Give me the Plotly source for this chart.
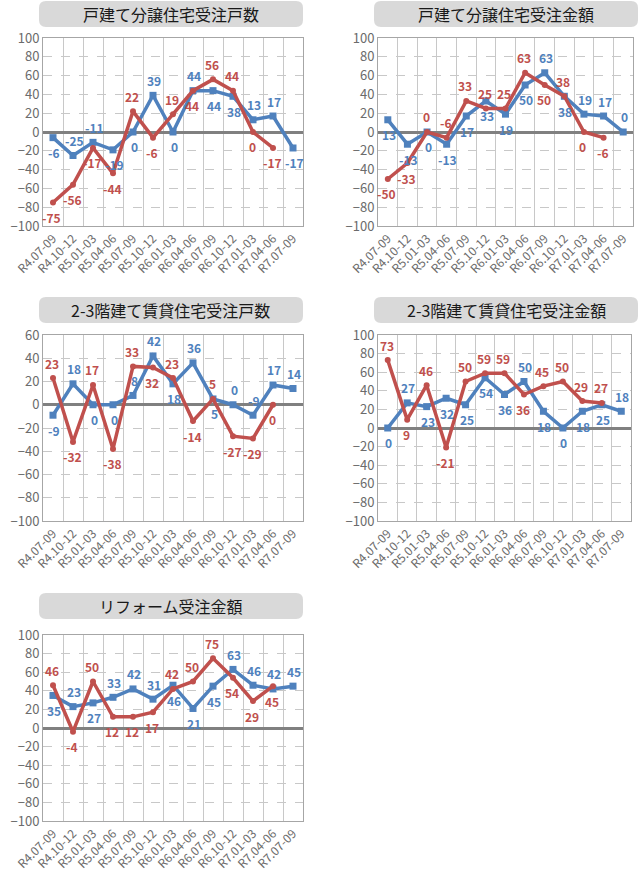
import plotly.graph_objects as go

W, H = 642, 875

categories = ["R4.07-09", "R4.10-12", "R5.01-03", "R5.04-06", "R5.07-09", "R5.10-12",
              "R6.01-03", "R6.04-06", "R6.07-09", "R6.10-12", "R7.01-03", "R7.04-06", "R7.07-09"]

titles = ["戸建て分譲住宅受注戸数", "戸建て分譲住宅受注金額",
          "2-3階建て賃貸住宅受注戸数", "2-3階建て賃貸住宅受注金額",
          "リフォーム受注金額"]

# blue = 実績, red = 見通し (one fewer quarter)
detached_units_blue = [-6, -25, -11, -19, 0, 39, 0, 44, 44, 38, 13, 17, -17]
detached_units_red = [-75, -56, -17, -44, 22, -6, 19, 44, 56, 44, 0, -17]
detached_amount_blue = [13, -13, 0, -13, 17, 33, 19, 50, 63, 38, 19, 17, 0]
detached_amount_red = [-50, -33, 0, -6, 33, 25, 25, 63, 50, 38, 0, -6]
rental_units_blue = [-9, 18, 0, 0, 8, 42, 18, 36, 5, 0, -9, 17, 14]
rental_units_red = [23, -32, 17, -38, 33, 32, 23, -14, 5, -27, -29, 0]
rental_amount_blue = [0, 27, 23, 32, 25, 54, 36, 50, 18, 0, 18, 25, 18]
rental_amount_red = [73, 9, 46, -21, 50, 59, 59, 36, 45, 50, 29, 27]
reform_amount_blue = [35, 23, 27, 33, 42, 31, 46, 21, 45, 63, 46, 42, 45]
reform_amount_red = [46, -4, 50, 12, 12, 17, 42, 50, 75, 54, 29, 45]

# label side per point: t = above, b = below
side_blue = [
    "bttbbtbtbbttb",
    "bbbbbbbbtbttt",
    "btbbttbtbtttt",
    "btbbbbbtbbbbt",
    "btbtttbbbtttt",
]
side_red = [
    "bbbbtbtbttbb",
    "bbttttttbtbb",
    "tbtbtbtbtbbb",
    "tbtbtttbtttt",
    "tbtbbbtttbbb",
]

series = [
    (detached_units_blue, detached_units_red),
    (detached_amount_blue, detached_amount_red),
    (rental_units_blue, rental_units_red),
    (rental_amount_blue, rental_amount_red),
    (reform_amount_blue, reform_amount_red),
]

# pixel boxes: plot area (x0, x1, y0, y1), title box (x0, x1, y0, y1)
plot_px = [(43, 303, 38, 226), (378, 633, 38, 226),
           (43, 303, 335, 521), (378, 631, 335, 521),
           (43, 303, 635, 821)]
title_px = [(39, 303, 1, 27), (374, 638, 1, 27),
            (39, 303, 297, 323), (374, 638, 297, 323),
            (39, 303, 593, 619)]
y_ranges = [(-100, 100), (-100, 100), (-100, 60), (-100, 100), (-100, 100)]

BLUE = "#4F81BD"
RED = "#C0504D"
FONT = "Noto Sans CJK JP"
LABEL_GAP = 15


def fx(px):
    return px / W


def fy(py):
    return 1 - py / H


def rounded_rect(x0, x1, y0, y1, r=7):
    X0, X1, Y0, Y1 = fx(x0), fx(x1), fy(y0), fy(y1)
    rx, ry = r / W, r / H
    return (f"M {X0+rx},{Y0} L {X1-rx},{Y0} Q {X1},{Y0} {X1},{Y0-ry} "
            f"L {X1},{Y1+ry} Q {X1},{Y1} {X1-rx},{Y1} L {X0+rx},{Y1} "
            f"Q {X0},{Y1} {X0},{Y1+ry} L {X0},{Y0-ry} Q {X0},{Y0} {X0+rx},{Y0} Z")


fig = go.Figure()
shapes = []
annotations = []

for i, (blue, red) in enumerate(series):
    n = i + 1
    xa = "x" if n == 1 else f"x{n}"
    ya = "y" if n == 1 else f"y{n}"

    fig.add_trace(go.Scatter(
        x=categories[:len(blue)], y=blue, xaxis=xa, yaxis=ya,
        mode="lines+markers",
        line=dict(color=BLUE, width=3.5),
        marker=dict(symbol="square", size=7, color=BLUE),
        showlegend=False, cliponaxis=False, hoverinfo="skip",
    ))
    fig.add_trace(go.Scatter(
        x=categories[:len(red)], y=red, xaxis=xa, yaxis=ya,
        mode="lines+markers",
        line=dict(color=RED, width=3.5),
        marker=dict(symbol="circle", size=6, color=RED),
        showlegend=False, cliponaxis=False, hoverinfo="skip",
    ))

    # data labels above / below each point
    for vals, sides, col, dx in ((blue, side_blue[i], BLUE, 1), (red, side_red[i], RED, -1)):
        for cat, v, s in zip(categories, vals, sides):
            annotations.append(dict(
                x=cat, y=v, xref=xa, yref=ya, text=str(v), showarrow=False,
                xanchor="center", yanchor="middle", xshift=dx,
                yshift=LABEL_GAP if s == "t" else -LABEL_GAP,
                font=dict(size=12, color=col, family=FONT, weight="bold"),
            ))

    x0, x1, y0, y1 = plot_px[i]
    lo, hi = y_ranges[i]
    fig.layout[f"xaxis{'' if n == 1 else n}"] = dict(
        domain=[fx(x0), fx(x1)], anchor=ya, automargin=False,
        type="category", categoryorder="array", categoryarray=categories,
        range=[-0.5, len(categories) - 0.5],
        tickson="boundaries", showgrid=True, gridcolor="#c8c8c8", gridwidth=1,
        showline=True, linecolor="#a6a6a6", linewidth=1, mirror=True,
        tickangle=-45, ticks="",
        tickfont=dict(size=12, color="#6b6b6b", family=FONT),
    )
    fig.layout[f"yaxis{'' if n == 1 else n}"] = dict(
        domain=[fy(y1), fy(y0)], anchor=xa, automargin=False,
        range=[lo, hi], dtick=20, showgrid=True, gridcolor="#c8c8c8",
        griddash="dash", gridwidth=1,
        zeroline=True, zerolinecolor="#808080", zerolinewidth=2.5,
        showline=True, linecolor="#a6a6a6", linewidth=1, mirror=True,
        ticks="", tickformat="d",
        tickfont=dict(size=13, color="#6b6b6b", family=FONT),
    )

    tx0, tx1, ty0, ty1 = title_px[i]
    shapes.append(dict(type="path", path=rounded_rect(tx0, tx1, ty0, ty1),
                       xref="paper", yref="paper",
                       fillcolor="#d9d9d9", line=dict(width=0), layer="below"))
    annotations.append(dict(text=titles[i], xref="paper", yref="paper",
                            x=fx((tx0 + tx1) / 2), y=fy((ty0 + ty1) / 2),
                            xanchor="center", yanchor="middle", showarrow=False,
                            font=dict(size=16, color="#1a1a1a", family=FONT)))

fig.update_layout(
    width=W, height=H,
    margin=dict(l=0, r=0, t=0, b=0, autoexpand=False),
    paper_bgcolor="white", plot_bgcolor="white",
    shapes=shapes, annotations=annotations,
    font=dict(family=FONT),
    hovermode=False,
)

# page has a default 8px body margin; drop it so the figure fills the window
fig.write_html("out.html", config={"displayModeBar": False},
               post_script="document.body.style.margin='0';")
